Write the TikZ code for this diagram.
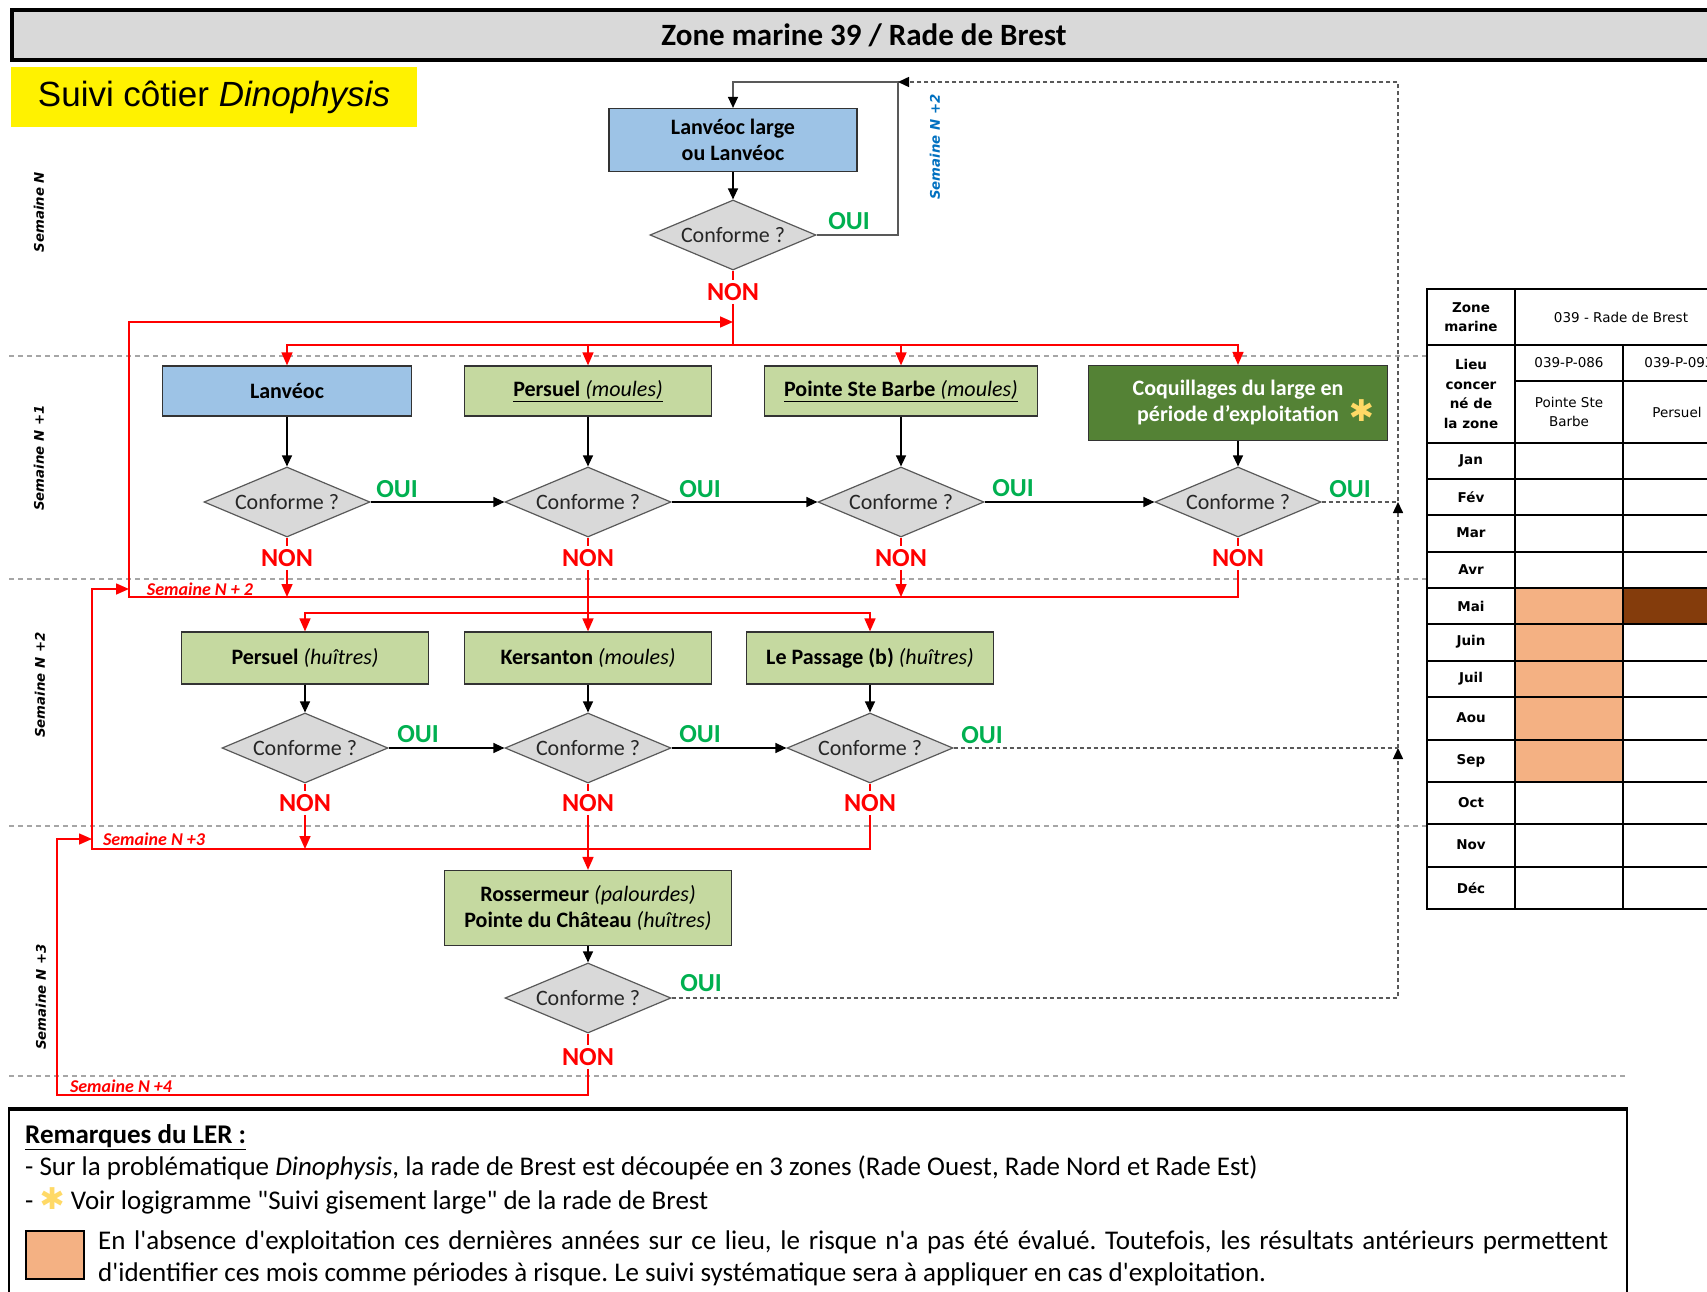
\documentclass[tikz,border=0pt]{standalone}
\usepackage{fontspec}
\setmainfont{Carlito}
\newfontfamily\calibri{Carlito}
\newfontfamily\arialfont{Liberation Sans}
\newfontfamily\verdanafont{DejaVu Sans}
\usepackage{tikz}
\usetikzlibrary{arrows.meta,shapes.geometric}

\definecolor{grisfond}{HTML}{D9D9D9}
\definecolor{bleuboite}{HTML}{9DC3E6}
\definecolor{vertboite}{HTML}{C5D9A0}
\definecolor{vertfonce}{HTML}{548235}
\definecolor{vertoui}{HTML}{00B050}
\definecolor{bleusem}{HTML}{0070C0}
\definecolor{jaunetoile}{HTML}{FFD966}
\definecolor{orangerisque}{HTML}{F4B183}
\definecolor{brunrisque}{HTML}{843C0C}
\definecolor{grisligne}{HTML}{595959}
\definecolor{grissep}{HTML}{A6A6A6}

\newcommand{\etoile}{{\verdanafont\bfseries\fontsize{30}{30}\selectfont\color{jaunetoile}✱}}
\frenchspacing

\begin{document}
\begin{tikzpicture}[x=1pt,y=1pt,
  boite/.style={rectangle,draw=black!80,line width=1.2pt,font=\fontsize{22}{26}\selectfont\bfseries,align=center,inner sep=0pt},
  boitebleue/.style={boite,fill=bleuboite},
  boiteverte/.style={boite,fill=vertboite},
  boitefoncee/.style={boite,fill=vertfonce,text=white},
  conforme/.style={diamond,draw=grisligne,line width=1.2pt,fill=grisfond,aspect=2.4,inner sep=0pt,minimum width=166pt,minimum height=70pt,text=black!85,font=\fontsize{22}{26}\selectfont},
  oui/.style={text=vertoui,font=\fontsize{26}{30}\selectfont\bfseries,inner sep=2pt},
  non/.style={text=red,font=\fontsize{26}{30}\selectfont\bfseries,inner sep=3pt},
  semaine/.style={rotate=90,font=\verdanafont\fontsize{13.3}{15}\selectfont\bfseries\itshape},
  semrouge/.style={text=red,font=\fontsize{18}{20}\selectfont\bfseries\itshape,inner sep=0pt},
  fleche/.style={-{Triangle[length=11pt,width=10pt,color=black]},line width=1.3pt,draw=black},
  rouge/.style={draw=red,line width=1.6pt},
  flecherouge/.style={rouge,-{Triangle[length=13pt,width=11pt]}},
  retour/.style={draw=grisligne,line width=1.5pt,dash pattern=on 4pt off 3pt},
  retourfleche/.style={retour,-{Triangle[length=11pt,width=10pt,color=black]}},
  separateur/.style={draw=grissep,line width=1.3pt,dash pattern=on 5pt off 4pt},
  cellule/.style={font=\verdanafont\fontsize{13.5}{19.5}\selectfont,align=center,inner sep=0pt},
  mois/.style={cellule,font=\verdanafont\fontsize{13.5}{19.5}\selectfont\bfseries},
  remarque/.style={anchor=west,inner sep=0pt,font=\calibri\fontsize{27}{32}\selectfont}
]
\useasboundingbox (0,0) rectangle (1707,-1292);
\clip (0,0) rectangle (1707,-1292);

\draw[fill=grisfond,line width=4pt] (12,-10) rectangle (1730,-60);
\node[font=\fontsize{31}{36}\selectfont\bfseries] (titre) at (864,-35) {Zone marine 39 / Rade de Brest};
\node[fill=yellow,minimum width=406pt,minimum height=60pt,inner sep=0pt,font=\arialfont\fontsize{35}{40}\selectfont] (suivi) at (214,-97) {Suivi côtier \textit{Dinophysis}};

\draw[separateur] (9,-356) -- (1427,-356);
\draw[separateur] (9,-579) -- (1427,-579);
\draw[separateur] (9,-826) -- (1427,-826);
\draw[separateur] (9,-1076) -- (1625,-1076);

\node[semaine] (semn) at (39,-212) {Semaine N};
\node[semaine] (semn1) at (39,-458) {Semaine N +1};
\node[semaine] (semn2) at (40,-685) {Semaine N +2};
\node[semaine] (semn3) at (41,-997) {Semaine N +3};
\node[semaine,text=bleusem] (semboucle) at (935,-147) {Semaine N +2};

\node[boitebleue,minimum width=248pt,minimum height=63pt] (lanlarge) at (733,-140) {Lanvéoc large\\ou Lanvéoc};
\node[conforme] (clanlarge) [below of=lanlarge,node distance=95pt] {Conforme ?};
\node[oui] (olanlarge) [right of=clanlarge,node distance=116pt,yshift=14pt] {OUI};
\node[non] (nlanlarge) [below of=clanlarge,node distance=57pt] {NON};

\node[boitebleue,minimum width=249pt,minimum height=50pt] (lanveoc) at (287,-391) {Lanvéoc};
\node[boiteverte,minimum width=247pt,minimum height=50pt] (persuelm) at (588,-391) {\underline{Persuel {\mdseries\itshape (moules)}}};
\node[boiteverte,minimum width=273pt,minimum height=50pt] (ptebarbe) at (901,-391) {\underline{Pointe Ste Barbe {\mdseries\itshape (moules)}}};
\node[boitefoncee,minimum width=299pt,minimum height=75pt] (coquillages) at (1238,-403) {Coquillages du large en\\période d’exploitation\rlap{\ \ \etoile}};

\node[conforme] (clanveoc) [below of=lanveoc,node distance=111pt] {Conforme ?};
\node[conforme] (cpersuelm) [below of=persuelm,node distance=111pt] {Conforme ?};
\node[conforme] (cptebarbe) [below of=ptebarbe,node distance=111pt] {Conforme ?};
\node[conforme] (ccoq) [below of=coquillages,node distance=99pt] {Conforme ?};
\node[oui] (olanveoc) [right of=clanveoc,node distance=110pt,yshift=13pt] {OUI};
\node[oui] (opersuelm) [right of=cpersuelm,node distance=112pt,yshift=13pt] {OUI};
\node[oui] (optebarbe) [right of=cptebarbe,node distance=112pt,yshift=14pt] {OUI};
\node[oui] (ocoq) [right of=ccoq,node distance=112pt,yshift=13pt] {OUI};
\node[non] (nlanveoc) [below of=clanveoc,node distance=56pt] {NON};
\node[non] (npersuelm) [below of=cpersuelm,node distance=56pt] {NON};
\node[non] (nptebarbe) [below of=cptebarbe,node distance=56pt] {NON};
\node[non] (ncoq) [below of=ccoq,node distance=56pt] {NON};

\node[boiteverte,minimum width=247pt,minimum height=52pt] (persuelh) at (305,-658) {Persuel {\mdseries\itshape (huîtres)}};
\node[boiteverte,minimum width=247pt,minimum height=52pt] (kersanton) at (588,-658) {Kersanton {\mdseries\itshape (moules)}};
\node[boiteverte,minimum width=247pt,minimum height=52pt] (passage) at (870,-658) {Le Passage (b) {\mdseries\itshape (huîtres)}};
\node[conforme] (cpersuelh) [below of=persuelh,node distance=90pt] {Conforme ?};
\node[conforme] (ckersanton) [below of=kersanton,node distance=90pt] {Conforme ?};
\node[conforme] (cpassage) [below of=passage,node distance=90pt] {Conforme ?};
\node[oui] (opersuelh) [right of=cpersuelh,node distance=113pt,yshift=14pt] {OUI};
\node[oui] (okersanton) [right of=ckersanton,node distance=112pt,yshift=14pt] {OUI};
\node[oui] (opassage) [right of=cpassage,node distance=112pt,yshift=13pt] {OUI};
\node[non] (npersuelh) [below of=cpersuelh,node distance=55pt] {NON};
\node[non] (nkersanton) [below of=ckersanton,node distance=55pt] {NON};
\node[non] (npassage) [below of=cpassage,node distance=55pt] {NON};

\node[boiteverte,minimum width=287pt,minimum height=75pt] (rossermeur) at (588,-908) {Rossermeur {\mdseries\itshape (palourdes)}\\Pointe du Château {\mdseries\itshape (huîtres)}};
\node[conforme] (crosser) [below of=rossermeur,node distance=90pt] {Conforme ?};
\node[oui] (orosser) [right of=crosser,node distance=113pt,yshift=15pt] {OUI};
\node[non] (nrosser) [below of=crosser,node distance=59pt] {NON};

\draw[fleche] (lanlarge) -- (clanlarge);
\draw[fleche] (lanveoc) -- (clanveoc);
\draw[fleche] (persuelm) -- (cpersuelm);
\draw[fleche] (ptebarbe) -- (cptebarbe);
\draw[fleche] (coquillages) -- (ccoq);
\draw[fleche] (persuelh) -- (cpersuelh);
\draw[fleche] (kersanton) -- (ckersanton);
\draw[fleche] (passage) -- (cpassage);
\draw[fleche] (rossermeur) -- (crosser);
\draw[fleche] (clanveoc.east) -- (cpersuelm.west);
\draw[fleche] (cpersuelm.east) -- (cptebarbe.west);
\draw[fleche] (cptebarbe.east) -- (ccoq.west);
\draw[fleche] (cpersuelh.east) -- (ckersanton.west);
\draw[fleche] (ckersanton.east) -- (cpassage.west);

\coordinate (boucle) at (898,-82);
\draw[fleche,draw=grisligne] (clanlarge.east) -| (boucle) -| (lanlarge.north);

\coordinate (montee) at (1398,-82);
\draw[retourfleche] (crosser.east) -- (crosser.east -| montee) -- (cpassage.east -| montee);
\draw[retour] (cpassage.east) -- (cpassage.east -| montee);
\draw[retourfleche] (cpassage.east -| montee) -- (ccoq.east -| montee);
\draw[retourfleche] (ccoq.east) -- (ccoq.east -| montee) -- (montee) -- (boucle);

\coordinate (repartn1) at (733,-345);
\coordinate (retourn1) at (733,-322);
\draw[rouge] (clanlarge) -- (nlanlarge);
\draw[rouge] (nlanlarge) -- (repartn1);
\draw[flecherouge] (repartn1) -| (lanveoc);
\draw[flecherouge] (repartn1) -| (persuelm);
\draw[flecherouge] (repartn1) -| (ptebarbe);
\draw[flecherouge] (repartn1) -| (coquillages);

\coordinate (bouclea) at (129,-597);
\draw[rouge] (clanveoc) -- (nlanveoc);
\draw[rouge] (cpersuelm) -- (npersuelm);
\draw[rouge] (cptebarbe) -- (nptebarbe);
\draw[rouge] (ccoq) -- (ncoq);
\draw[flecherouge] (nlanveoc) -- (nlanveoc |- bouclea);
\draw[flecherouge] (nptebarbe) -- (nptebarbe |- bouclea);
\draw[flecherouge] (ncoq) |- (bouclea) |- (retourn1);
\node[semrouge] (semn2rouge) at (200,-589) {Semaine N + 2};

\coordinate (repartn2) at (588,-613);
\draw[flecherouge] (npersuelm) -- (kersanton);
\draw[flecherouge] (repartn2) -| (persuelh);
\draw[flecherouge] (repartn2) -| (passage);

\coordinate (boucleb) at (92,-849);
\coordinate (retourn2) at (129,-589);
\draw[rouge] (cpersuelh) -- (npersuelh);
\draw[rouge] (ckersanton) -- (nkersanton);
\draw[rouge] (cpassage) -- (npassage);
\draw[flecherouge] (npersuelh) -- (npersuelh |- boucleb);
\draw[flecherouge] (npassage) |- (boucleb) |- (retourn2);
\draw[flecherouge] (nkersanton) -- (rossermeur);
\node[semrouge] (semn3rouge) at (154,-839) {Semaine N +3};

\coordinate (bouclec) at (57,-1095);
\coordinate (retourn3) at (92,-839);
\draw[rouge] (crosser) -- (nrosser);
\draw[flecherouge] (nrosser) |- (bouclec) |- (retourn3);
\node[semrouge] (semn4rouge) at (121,-1086) {Semaine N +4};

\fill[orangerisque] (1515,-588) rectangle (1623,-782);
\fill[brunrisque] (1623,-588) rectangle (1745,-624);
\draw[line width=2.2pt] (1427,-345) -- (1745,-345)
  (1515,-381) -- (1745,-381)
  (1427,-443) -- (1745,-443)
  (1427,-479) -- (1745,-479)
  (1427,-515) -- (1745,-515)
  (1427,-552) -- (1745,-552)
  (1427,-588) -- (1745,-588)
  (1427,-624) -- (1745,-624)
  (1427,-661) -- (1745,-661)
  (1427,-697) -- (1745,-697)
  (1427,-740) -- (1745,-740)
  (1427,-782) -- (1745,-782)
  (1427,-824) -- (1745,-824)
  (1427,-867) -- (1745,-867)
  (1515,-289) -- (1515,-909)
  (1623,-345) -- (1623,-909);
\draw[line width=2.5pt] (1427,-289) rectangle (1750,-909);

\node[mois] (zone) at (1471,-317) {Zone\\marine};
\node[cellule] (rade) at (1621,-317) {039 - Rade de Brest};
\node[mois] (lieu) at (1471,-394) {Lieu\\concer\\né de\\la zone};
\node[cellule] (code1) at (1569,-363) {039-P-086};
\node[cellule] (code2) at (1679,-363) {039-P-093};
\node[cellule] (lieu1) at (1569,-412) {Pointe Ste\\Barbe};
\node[cellule] (lieu2) at (1677,-412) {Persuel};
\node[mois] (jan) at (1471,-461) {Jan};
\node[mois] (fev) at (1471,-497) {Fév};
\node[mois] (mar) at (1471,-533) {Mar};
\node[mois] (avr) at (1471,-570) {Avr};
\node[mois] (mai) at (1471,-606) {Mai};
\node[mois] (juin) at (1471,-642) {Juin};
\node[mois] (juil) at (1471,-679) {Juil};
\node[mois] (aou) at (1471,-718) {Aou};
\node[mois] (sep) at (1471,-761) {Sep};
\node[mois] (oct) at (1471,-803) {Oct};
\node[mois] (nov) at (1471,-845) {Nov};
\node[mois] (dec) at (1471,-888) {Déc};

\draw[line width=2pt] (9,-1109) rectangle (1627,-1310);
\draw[line width=3.5pt] (8,-1109) -- (1628,-1109);
\node[remarque,font=\calibri\fontsize{27}{32}\selectfont\bfseries] (remarques) at (25,-1137) {\underline{Remarques du LER :}};
\node[remarque] (rem1) at (25,-1168) {- Sur la problématique \textit{Dinophysis}, la rade de Brest est découpée en 3 zones (Rade Ouest, Rade Nord et Rade Est)};
\node[remarque] (rem2) at (25,-1201) {- \etoile\ Voir logigramme "Suivi gisement large" de la rade de Brest};
\node[draw,fill=orangerisque,line width=2.5pt,minimum width=58pt,minimum height=48pt,inner sep=0pt] (legende) at (55,-1255) {};
\node[anchor=north west,inner sep=0pt,text width=1510pt,align=justify,font=\calibri\fontsize{27}{32}\selectfont] (rem3) at (98,-1231) {En l'absence d'exploitation ces dernières années sur ce lieu, le risque n'a pas été évalué. Toutefois, les résultats antérieurs permettent\linebreak d'identifier ces mois comme périodes à risque. Le suivi systématique sera à appliquer en cas d'exploitation.};
\end{tikzpicture}
\end{document}
